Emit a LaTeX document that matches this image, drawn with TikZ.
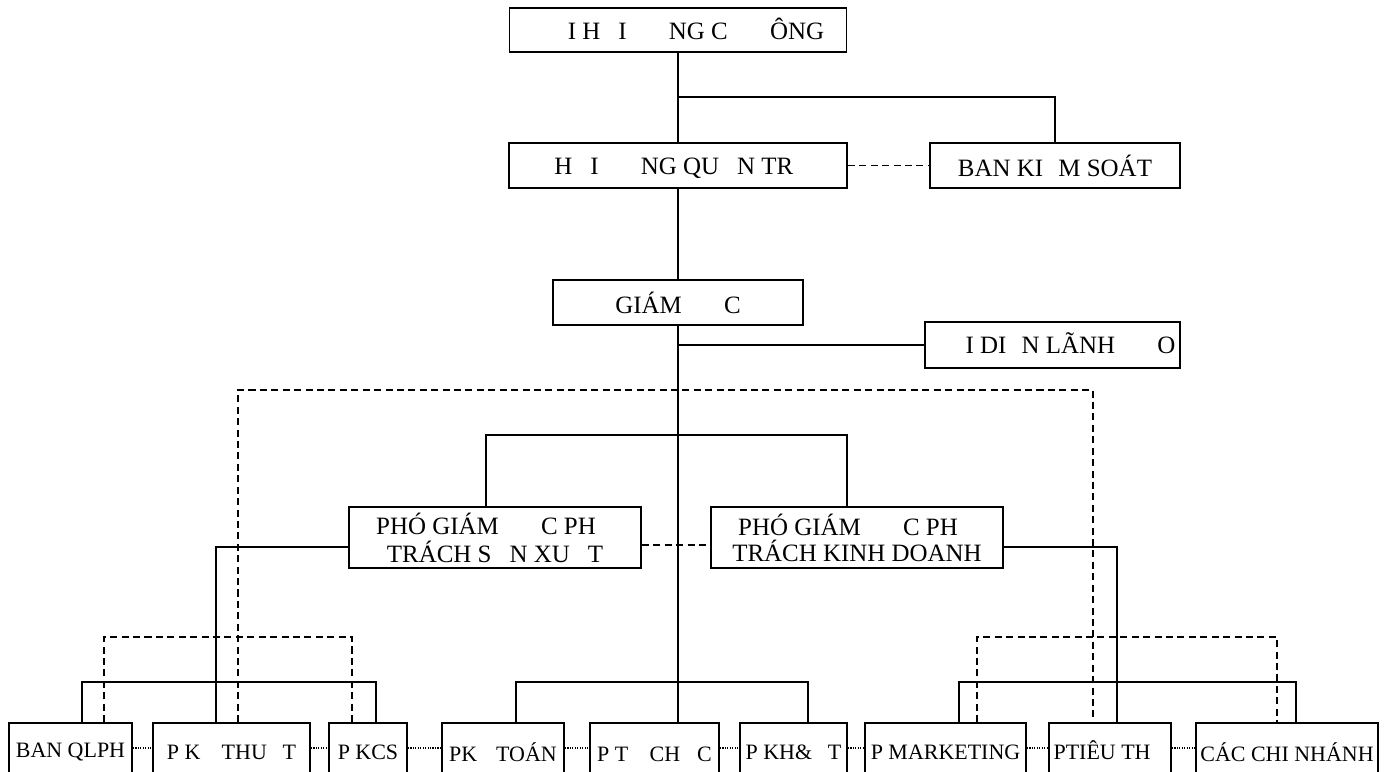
\documentclass[tikz,border=0pt]{standalone}
\usepackage{fontspec}
\setmainfont{Liberation Serif}
\newcommand{\gap}[1]{\phantom{#1}}
\tikzset{
  box/.style={draw, line width=1pt, inner sep=0pt, align=center, font=\fontsize{14.2}{14.7}\selectfont},
  unit/.style={box, minimum height=1.16cm, font=\fontsize{12.5}{15}\selectfont},
  link/.style={line width=1pt},
  dashline/.style={line width=1pt, dash pattern=on 4pt off 2.5pt},
  dotline/.style={line width=0.6pt, dash pattern=on 0.7pt off 0.7pt}
}
\begin{document}
\begin{tikzpicture}[x=0.02cm,y=-0.02cm]
\useasboundingbox (0,0) rectangle (1391,771);

\node[box, minimum width=6.74cm, minimum height=0.88cm] (dhcd) at (678,30) {\gap{ĐẠ}I H\gap{Ộ}I \gap{ĐỒ}NG C\gap{Ổ} \gap{Đ}ÔNG};
\node[box, minimum width=6.76cm, minimum height=0.9cm] (hdqt) at (678,165.5) {H\gap{Ộ}I \gap{ĐỒ}NG QU\gap{Ả}N TR\gap{Ị}};
\node[box, minimum width=5cm, minimum height=0.9cm] (bks) at (1055,165.5) {BAN KI\gap{Ể}M SOÁT};
\node[box, minimum width=5cm, minimum height=0.9cm] (gd) at (678,302.5) {GIÁM \gap{ĐỐ}C};
\node[box, minimum width=5.1cm, minimum height=0.92cm] (ddld) at (1052.5,345) {\gap{ĐẠ}I DI\gap{Ệ}N LÃNH \gap{ĐẠ}O};
\node[box, minimum width=5.84cm, minimum height=1.22cm] (pgdsx) at (495,537.5) {PHÓ GIÁM \gap{ĐỐ}C PH\gap{Ụ}\\TRÁCH S\gap{Ả}N XU\gap{Ấ}T};
\node[box, minimum width=5.84cm, minimum height=1.22cm] (pgdkd) at (857,537.5) {PHÓ GIÁM \gap{ĐỐ}C PH\gap{Ụ}\\TRÁCH KINH DOANH};

\node[unit, minimum width=2.46cm] (qlph) at (70.5,752) {BAN QLPH};
\node[unit, minimum width=3.14cm] (pkt) at (231.5,752) {P K\gap{Ỹ} THU\gap{Ậ}T};
\node[unit, minimum width=1.56cm] (kcs) at (368,752) {P KCS};
\node[unit, minimum width=2.44cm] (pkto) at (503,752) {PK\gap{Ế} TOÁN};
\node[unit, minimum width=2.58cm] (ptc) at (654.5,752) {P T\gap{Ổ} CH\gap{Ứ}C};
\node[unit, minimum width=2.14cm] (pkh) at (793.5,752) {P KH\&\gap{Đ}T};
\node[unit, minimum width=3.22cm] (pmk) at (945.5,752) {P MARKETING};
\node[unit, minimum width=2.44cm] (ptt) at (1110,752) {PTIÊU TH\gap{Ụ}};
\node[unit, minimum width=3.64cm] (ccn) at (1287,752) {CÁC CHI NHÁNH};

\coordinate (top) at (678,97);
\coordinate (pl) at (486,435);
\coordinate (pr) at (847,435);
\coordinate (lx) at (216,682);
\coordinate (rx) at (1117,682);
\coordinate (dl) at (238,390);
\coordinate (dr) at (1093,390);

\draw[link] (dhcd.south) -- (hdqt.north);
\draw[link] (top) -| (bks.north);
\draw[dashline] (hdqt.east) -- (bks.west);
\draw[link] (hdqt.south) -- (gd.north);
\draw[link] (gd.south) -- (gd.south |- ptc.north);
\draw[link] (gd.south |- ddld.west) -- (ddld.west);
\draw[link] (pl |- pgdsx.north) -- (pl) -- (pr) -- (pr |- pgdkd.north);
\draw[dashline] ([yshift=-0.15cm]pgdsx.east) -- ([yshift=-0.15cm]pgdkd.west);
\draw[link] ([yshift=-0.19cm]pgdsx.west) -| (lx |- pkt.north);
\draw[link] ([yshift=-0.19cm]pgdkd.east) -| (rx |- ptt.north);
\draw[dashline] (dl |- pkt.north) -- (dl) -- (dr) -- (dr |- ptt.north);

\draw[link] (82,0 |- qlph.north) |- (lx) -| (376,0 |- kcs.north);
\draw[dashline] (104,0 |- qlph.north) |- (352,637) -- (352,0 |- kcs.north);
\draw[link] (516,0 |- pkto.north) |- (808,682) -- (808,0 |- pkh.north);
\draw[link] (959,0 |- pmk.north) |- (1296,682) -- (1296,0 |- ccn.north);
\draw[dashline] (977,0 |- pmk.north) |- (1277,637) -- (1277,0 |- ccn.north);

\foreach \a/\b in {qlph/pkt, pkt/kcs, kcs/pkto, pkto/ptc, ptc/pkh, pkh/pmk, pmk/ptt, ptt/ccn}
  \draw[dotline] ([yshift=0.08cm]\a.east) -- ([yshift=0.08cm]\b.west);
\end{tikzpicture}
\end{document}
